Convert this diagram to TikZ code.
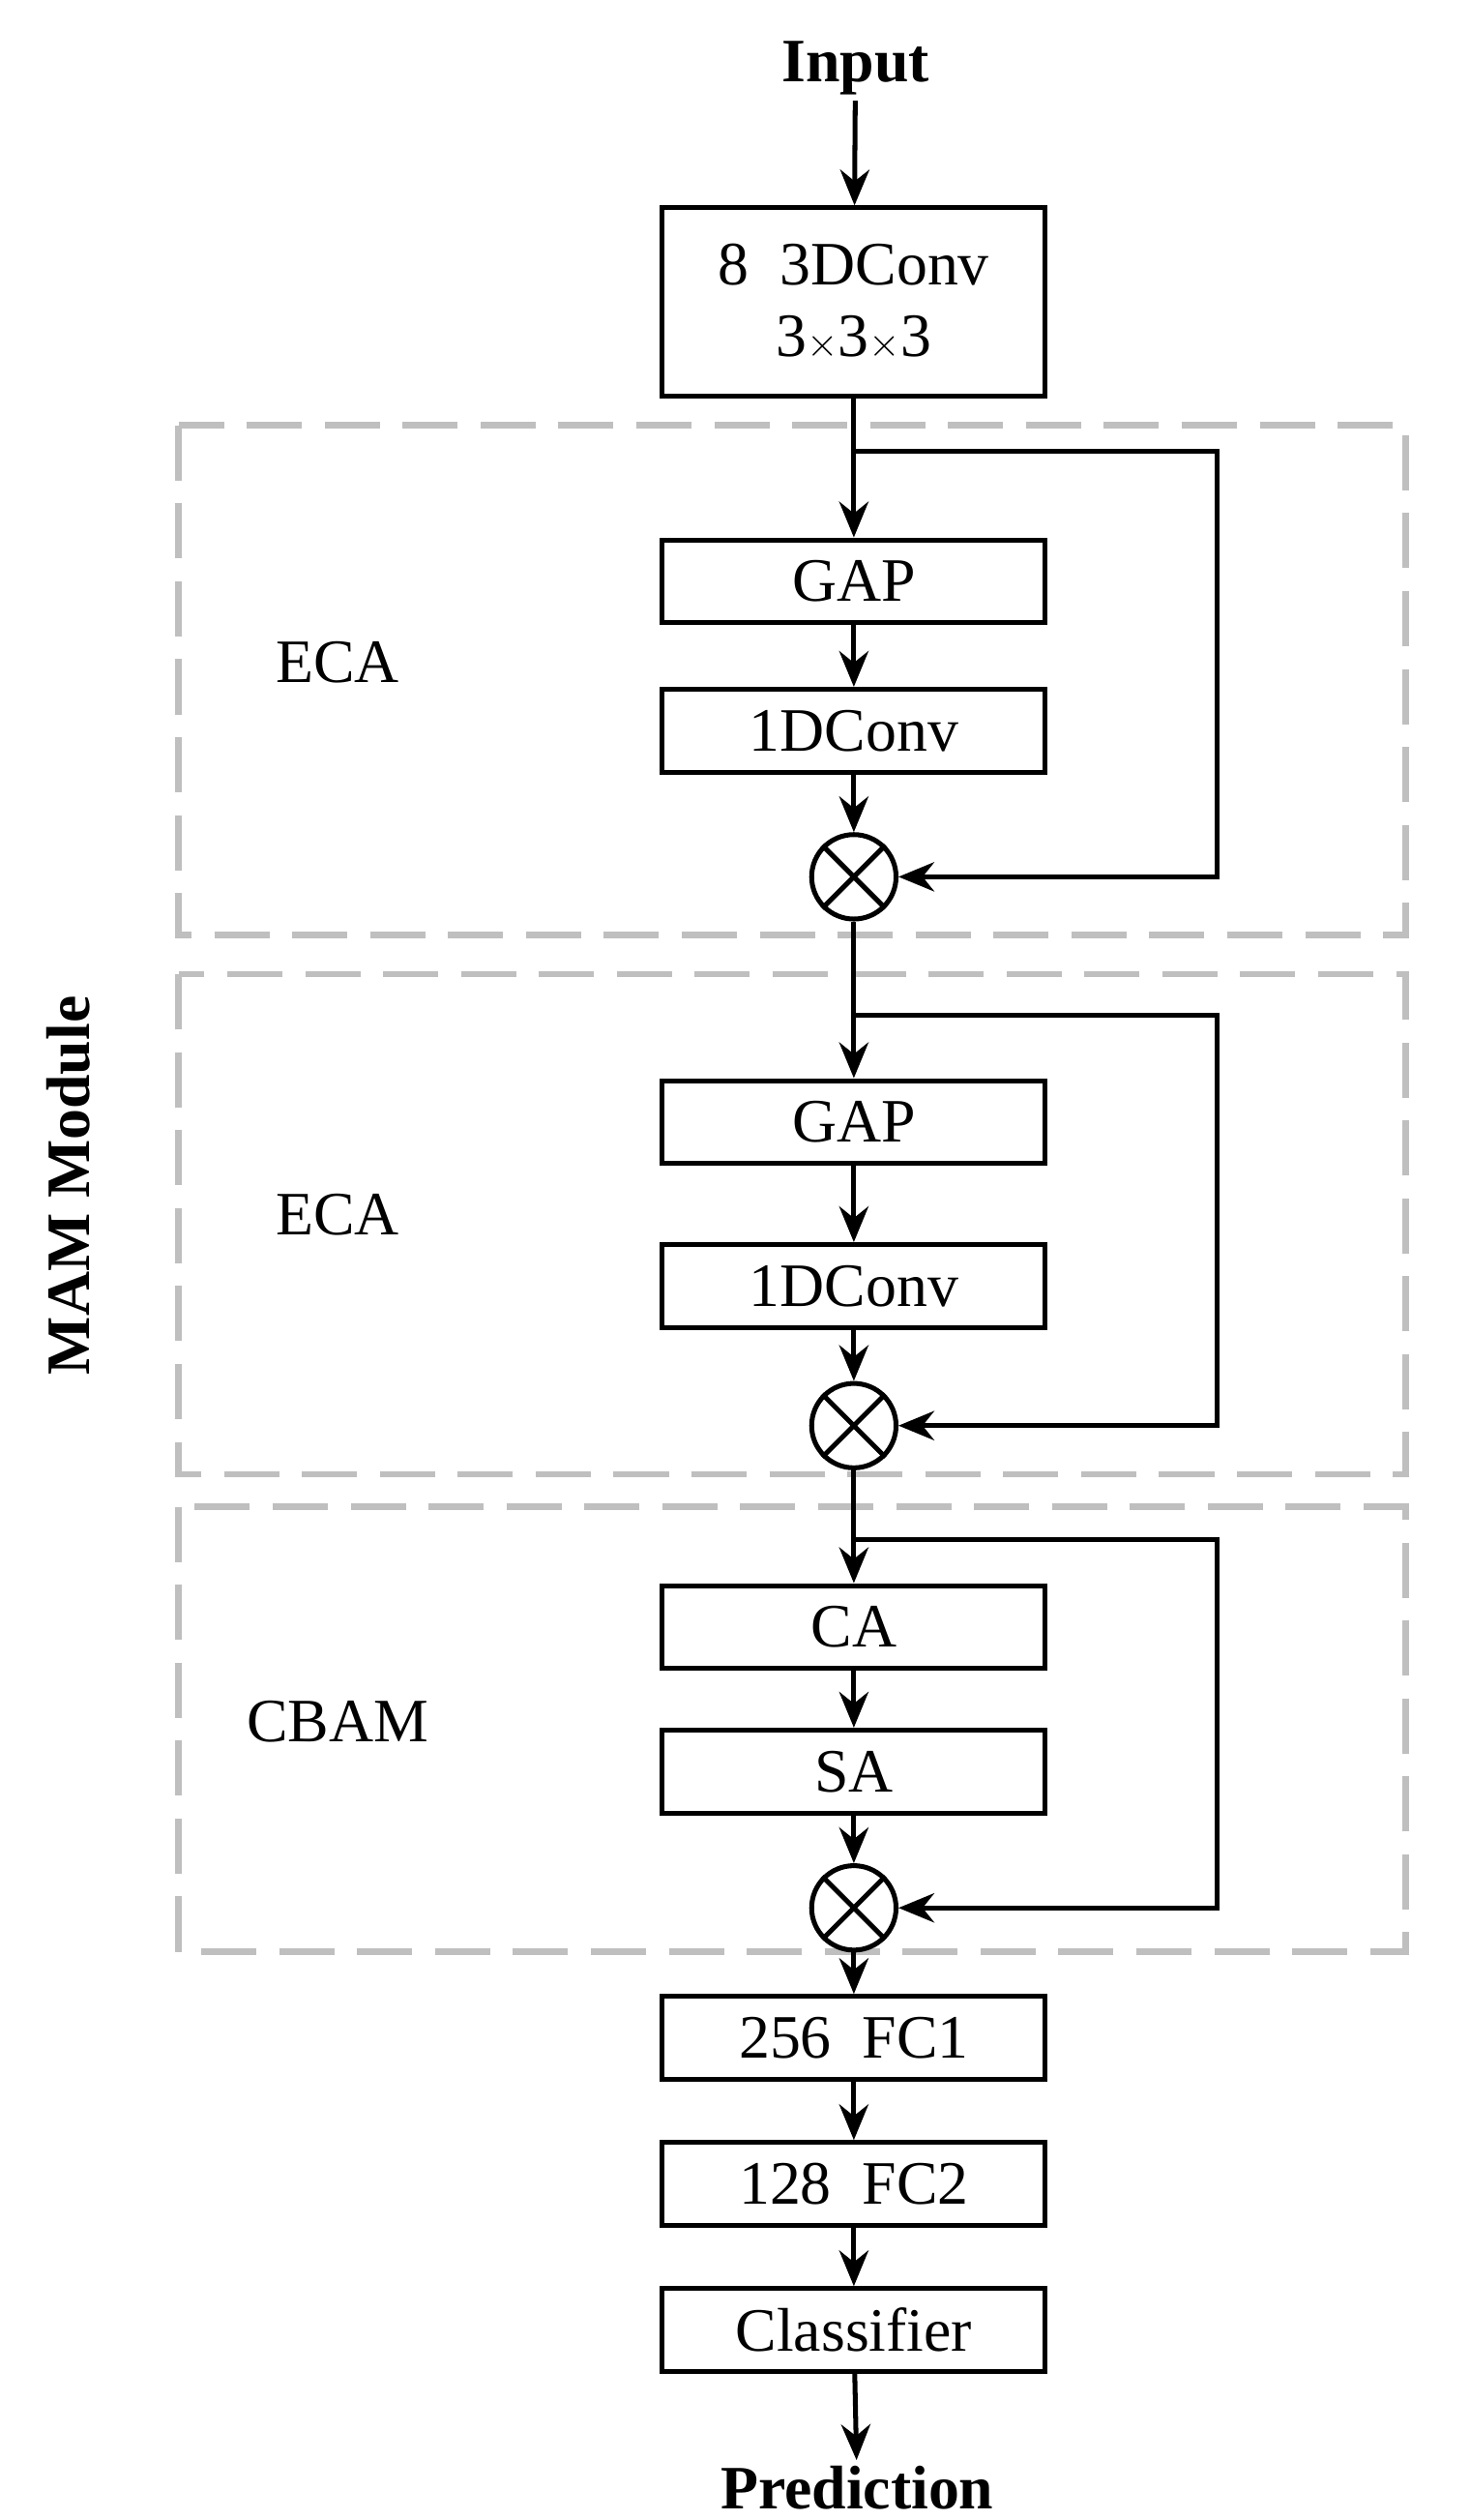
\documentclass[tikz,border=0pt]{standalone}
\usepackage{fontspec}
\setmainfont{Liberation Serif}
\usetikzlibrary{positioning,arrows.meta}
\tikzset{
  blk/.style={draw, line width=3pt, minimum width=236pt, minimum height=51pt, inner sep=0pt, font=\fontsize{38}{44}\selectfont},
  mul/.style={draw, circle, line width=3pt, minimum size=52pt, inner sep=0pt},
  grp/.style={draw=black!25, line width=4pt, dash pattern=on 34pt off 14pt},
  lbl/.style={font=\fontsize{38}{44}\selectfont},
  arr/.style={line width=3pt, -{Stealth[length=22pt,width=18pt]}}
}
\begin{document}
\begin{tikzpicture}[x=1pt,y=-1pt]
  \useasboundingbox (0,0) rectangle (905,1552);
  % groups
  \draw[grp] (110,262) rectangle (866,576);
  \draw[grp] (110,600) rectangle (866,908);
  \draw[grp] (110,928) rectangle (866,1202);
  \node[lbl, font=\bfseries\fontsize{38}{44}\selectfont, rotate=90] (mam) at (42,730) {MAM Module};
  \node[lbl] (ecaA) at (208,408) {ECA};
  \node[lbl] (ecaB) at (208,748) {ECA};
  \node[lbl] (cbam) at (208,1060) {CBAM};
  % main column
  \node[lbl, font=\bfseries\fontsize{38}{44}\selectfont] (input) at (527,42) {Input};
  \node[blk, minimum height=116pt, align=center] (conv) at (526,186) {8\enspace 3DConv\\3$\times$3$\times$3};
  \node[blk] (gapA) at (526,358) {GAP};
  \node[blk] (odA) at (526,450) {1DConv};
  \node[mul] (mulA) at (526,540) {};
  \node[blk] (gapB) at (526,691) {GAP};
  \node[blk] (odB) at (526,792) {1DConv};
  \node[mul] (mulB) at (526,878) {};
  \node[blk] (ca) at (526,1002) {CA};
  \node[blk] (sa) at (526,1091) {SA};
  \node[mul] (mulC) at (526,1175) {};
  \node[blk] (fca) at (526,1255) {256\enspace FC1};
  \node[blk] (fcb) at (526,1345) {128\enspace FC2};
  \node[blk] (cls) at (526,1435) {Classifier};
  \node[lbl, font=\bfseries\fontsize{38}{44}\selectfont] (pred) at (528,1532) {Prediction};
  \foreach \m in {mulA,mulB,mulC}{
    \draw[line width=3pt] (\m.45) -- (\m.225) (\m.135) -- (\m.315);
  }
  % loops
  \coordinate (sA) at (526,278);
  \coordinate (sB) at (526,625);
  \coordinate (sC) at (526,948);
  \draw[arr] (input) -- (conv);
  \draw[arr] (conv) -- (gapA);
  \draw[arr] (gapA) -- (odA);
  \draw[arr] (odA) -- (mulA);
  \draw[arr] (mulA) -- (gapB);
  \draw[arr] (gapB) -- (odB);
  \draw[arr] (odB) -- (mulB);
  \draw[arr] (mulB) -- (ca);
  \draw[arr] (ca) -- (sa);
  \draw[arr] (sa) -- (mulC);
  \draw[arr] (mulC) -- (fca);
  \draw[arr] (fca) -- (fcb);
  \draw[arr] (fcb) -- (cls);
  \draw[arr] (cls) -- (pred);
  \draw[arr] (sA) -| (750,540) -- (mulA);
  \draw[arr] (sB) -| (750,878) -- (mulB);
  \draw[arr] (sC) -| (750,1175) -- (mulC);
\end{tikzpicture}
\end{document}
